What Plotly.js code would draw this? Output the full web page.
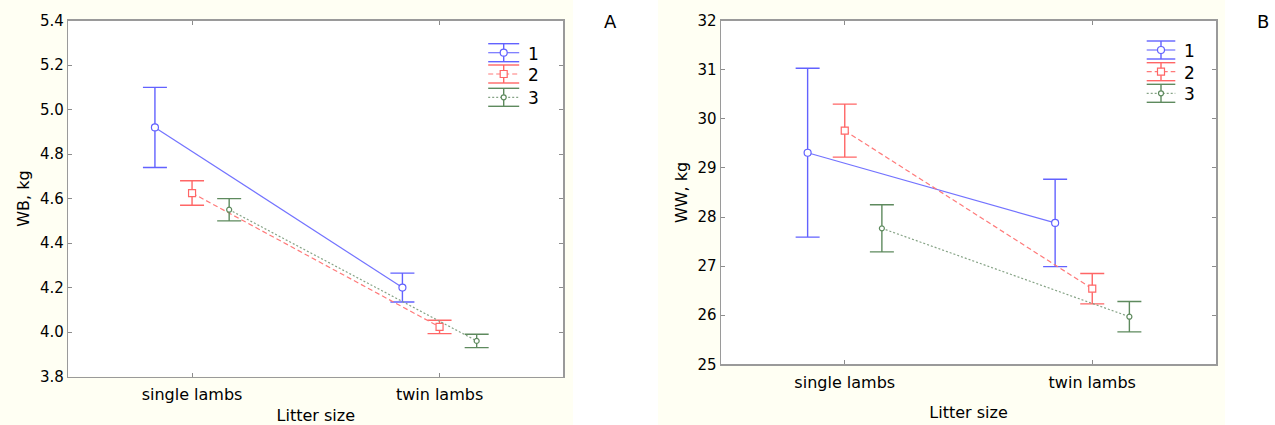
<!DOCTYPE html>
<html><head><meta charset="utf-8">
<script src="https://cdn.plot.ly/plotly-3.0.1.min.js"></script>
<style>html,body{margin:0;padding:0;background:#fff}</style>
</head><body><div id="chart" style="width:1275px;height:425px"></div>
<script>
// ---------- data ----------
const categories = ['single lambs', 'twin lambs'];
const groups = ['1', '2', '3'];

// Panel A: WB, kg (means and error half-widths)
const wbMean1 = [4.92, 4.20];
const wbErr1  = [0.18, 0.065];
const wbMean2 = [4.625, 4.023];
const wbErr2  = [0.055, 0.03];
const wbMean3 = [4.55, 3.96];
const wbErr3  = [0.05, 0.03];
const wbTicks = [3.8, 4.0, 4.2, 4.4, 4.6, 4.8, 5.0, 5.2, 5.4];

// Panel B: WW, kg
const wwMean1 = [29.31, 27.88];
const wwErr1  = [1.72, 0.89];
const wwMean2 = [29.76, 26.54];
const wwErr2  = [0.54, 0.31];
const wwMean3 = [27.77, 25.97];
const wwErr3  = [0.48, 0.31];
const wwTicks = [25, 26, 27, 28, 29, 30, 31, 32];

// ---------- styling ----------
const W = 1275, H = 425;
const FONT = 'DejaVu Sans, Liberation Sans, Arial, sans-serif';
const TXT = '#000000';
const styles = [
  {color: '#6262ff', line: '#7373ff', dash: 'solid',   symbol: 'circle', size: 7, offset: -0.15},
  {color: '#ff6666', line: '#ff7a7a', dash: '5px,3px', symbol: 'square', size: 7, offset: 0},
  {color: '#5e8a5e', line: '#86a386', dash: '2px,2px', symbol: 'circle', size: 5, offset: 0.15}
];
const px = x => x / W;
const py = y => 1 - y / H;

const panels = [
  {xa: 'x', ya: 'y', means: [wbMean1, wbMean2, wbMean3], errs: [wbErr1, wbErr2, wbErr3]},
  {xa: 'x2', ya: 'y2', means: [wwMean1, wwMean2, wwMean3], errs: [wwErr1, wwErr2, wwErr3]}
];

const traces = [];
panels.forEach((p, pi) => {
  p.means.forEach((m, si) => {
    const s = styles[si];
    traces.push({
      type: 'scatter', mode: 'lines+markers', name: groups[si],
      showlegend: false,
      x: categories.map((c, k) => k + s.offset),
      y: m,
      xaxis: p.xa, yaxis: p.ya,
      line: {color: s.line, width: 1.2, dash: s.dash},
      marker: {symbol: s.symbol, size: s.size, color: '#ffffff', line: {color: s.color, width: 1.2}},
      error_y: {type: 'data', array: p.errs[si], visible: true, color: s.color, thickness: 1.4, width: 12},
      hovertemplate: '%{y}<extra>' + groups[si] + '</extra>'
    });
  });
});

function xAxis(domain, standoff) {
  return {
    domain: domain, range: [-0.5, 1.5], tickvals: [0, 1], ticktext: categories,
    ticks: 'inside', ticklen: 4, tickcolor: '#8c8c8c', tickwidth: 1,
    showline: true, linecolor: '#9a9a9a', linewidth: 1.5, mirror: 'ticks',
    showgrid: false, zeroline: false, fixedrange: true, ticklabelstandoff: 3,
    tickfont: {family: FONT, size: 16, color: TXT},
    title: {text: 'Litter size', font: {family: FONT, size: 16, color: TXT}, standoff: standoff}
  };
}
function yAxis(domain, range, ticks, fmt, title, xa) {
  return {
    domain: domain, range: range, tickvals: ticks, tickformat: fmt, anchor: xa,
    ticks: 'inside', ticklen: 4, tickcolor: '#8c8c8c', tickwidth: 1,
    showline: true, linecolor: '#9a9a9a', linewidth: 1.5, mirror: 'ticks',
    showgrid: false, zeroline: false, fixedrange: true,
    tickfont: {family: FONT, size: 15, color: TXT},
    title: {text: title, font: {family: FONT, size: 16, color: TXT}, standoff: 6}
  };
}

const xA = [px(68.3), px(563.3)], xB = [px(721), px(1216)];
const yA = [py(376.5), py(20.7)], yB = [py(364.3), py(20.7)];

const shapes = [
  {type: 'rect', xref: 'paper', yref: 'paper', x0: 0, x1: px(573), y0: 0, y1: 1, fillcolor: '#fffff3', line: {width: 0}, layer: 'below'},
  {type: 'rect', xref: 'paper', yref: 'paper', x0: px(658), x1: px(1225), y0: 0, y1: 1, fillcolor: '#fffff3', line: {width: 0}, layer: 'below'},
  {type: 'rect', xref: 'paper', yref: 'paper', x0: xA[0], x1: xA[1], y0: yA[0], y1: yA[1], fillcolor: '#ffffff', line: {width: 0}, layer: 'below'},
  {type: 'rect', xref: 'paper', yref: 'paper', x0: xB[0], x1: xB[1], y0: yB[0], y1: yB[1], fillcolor: '#ffffff', line: {width: 0}, layer: 'below'}
];
const annotations = [
  {text: 'A', xref: 'paper', yref: 'paper', x: px(610), y: py(22), xanchor: 'center', yanchor: 'middle', showarrow: false, font: {family: FONT, size: 18, color: TXT}},
  {text: 'B', xref: 'paper', yref: 'paper', x: px(1263), y: py(22), xanchor: 'center', yanchor: 'middle', showarrow: false, font: {family: FONT, size: 18, color: TXT}}
];

// hand-drawn legends (line style + error-bar glyph + marker)
function legend(cx, rows, half, labelX) {
  rows.forEach((ry, si) => {
    const s = styles[si];
    const L = {xref: 'paper', yref: 'paper'};
    shapes.push(Object.assign({type: 'line', x0: px(cx - half), x1: px(cx + half), y0: py(ry - 9), y1: py(ry - 9), line: {color: s.color, width: 1.4}}, L));
    shapes.push(Object.assign({type: 'line', x0: px(cx - half), x1: px(cx + half), y0: py(ry + 9), y1: py(ry + 9), line: {color: s.color, width: 1.4}}, L));
    shapes.push(Object.assign({type: 'line', x0: px(cx), x1: px(cx), y0: py(ry - 9), y1: py(ry + 9), line: {color: s.color, width: 1.4}}, L));
    shapes.push(Object.assign({type: 'line', x0: px(cx - half), x1: px(cx + half), y0: py(ry), y1: py(ry), line: {color: s.line, width: 1.2, dash: s.dash}}, L));
    const r = s.size / 2;
    shapes.push(Object.assign({type: s.symbol === 'square' ? 'rect' : 'circle', x0: px(cx - r), x1: px(cx + r), y0: py(ry + r), y1: py(ry - r), fillcolor: '#ffffff', line: {color: s.color, width: 1.2}}, L));
    annotations.push({text: groups[si], xref: 'paper', yref: 'paper', x: px(labelX), y: py(ry + 1), xanchor: 'left', yanchor: 'middle', showarrow: false, font: {family: FONT, size: 17, color: TXT}});
  });
}
legend(503.7, [52.7, 74, 97.3], 15.5, 526);
legend(1161, [50, 71.7, 93.3], 14.3, 1182);

const layout = {
  width: W, height: H, margin: {l: 0, r: 0, t: 0, b: 0},
  paper_bgcolor: '#ffffff', plot_bgcolor: 'rgba(0,0,0,0)',
  showlegend: false, font: {family: FONT, color: TXT},
  xaxis: Object.assign(xAxis(xA, 8), {anchor: 'y'}),
  yaxis: yAxis(yA, [3.8, 5.4], wbTicks, '.1f', 'WB, kg', 'x'),
  xaxis2: Object.assign(xAxis(xB, 16), {anchor: 'y2'}),
  yaxis2: yAxis(yB, [25, 32], wwTicks, 'd', 'WW, kg', 'x2'),
  shapes: shapes, annotations: annotations
};

Plotly.newPlot('chart', traces, layout, {displayModeBar: false, staticPlot: true});
</script>
</body></html>
